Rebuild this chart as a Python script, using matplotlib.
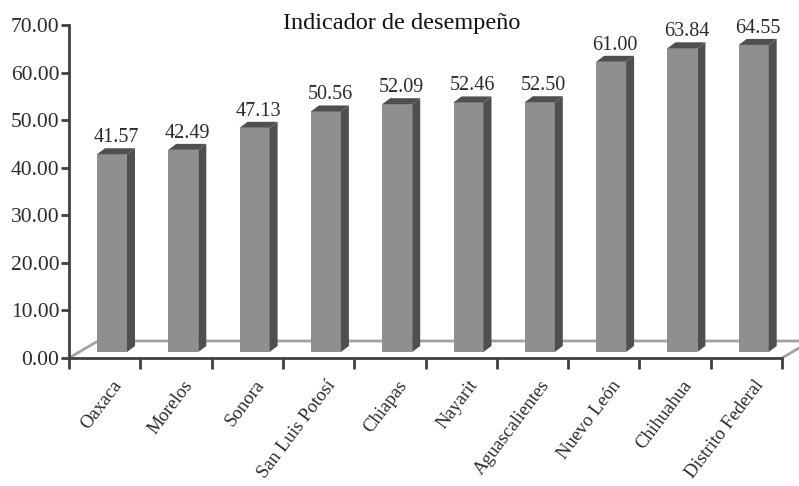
import matplotlib
matplotlib.use("Agg")
import matplotlib.pyplot as plt
from matplotlib.patches import Polygon

estados = ["Oaxaca", "Morelos", "Sonora", "San Luis Potosí", "Chiapas",
           "Nayarit", "Aguascalientes", "Nuevo León", "Chihuahua", "Distrito Federal"]
valores = [41.57, 42.49, 47.13, 50.56, 52.09, 52.46, 52.50, 61.00, 63.84, 64.55]
yticks = [0, 10, 20, 30, 40, 50, 60, 70]

plt.rcParams['font.family'] = ['Liberation Serif', 'DejaVu Serif']

fig = plt.figure(figsize=(7.99, 4.86), dpi=100)
ax = fig.add_axes([69 / 799, 1 - 358 / 486, 713 / 799, 333 / 486])
ax.set_xlim(0, len(estados))
ax.set_ylim(0, 70)

# pixel -> data conversion for the fake 3d look
px_x = len(estados) / 713
px_y = 70 / 333

front = "#8f8f91"
dark = "#4f4f51"
texto = "#2b2b2b"

# floor (back edge and diagonals)
fdx, fdy = 29 * px_x, 17 * px_y
ax.plot([0, fdx, len(estados) + fdx], [0, fdy, fdy], color="#a3a3a3", lw=2,
        clip_on=False, zorder=1, solid_capstyle="butt")
ax.plot([len(estados), len(estados) + fdx], [0, fdy], color="#a3a3a3", lw=2,
        clip_on=False, zorder=1)

# bars
bw = 30 * px_x
off = 28 * px_x
dx, dy = 8 * px_x, 6 * px_y
for i, v in enumerate(valores):
    x0 = i + off
    base = dy
    top = v + dy
    ax.add_patch(Polygon([(x0, base), (x0 + bw, base), (x0 + bw, top), (x0, top)],
                         closed=True, fc=front, ec="none", zorder=3, clip_on=False))
    ax.add_patch(Polygon([(x0, top), (x0 + bw, top), (x0 + bw + dx, top + dy), (x0 + dx, top + dy)],
                         closed=True, fc=dark, ec="none", zorder=3, clip_on=False))
    ax.add_patch(Polygon([(x0 + bw, base), (x0 + bw + dx, base + dy), (x0 + bw + dx, top + dy), (x0 + bw, top)],
                         closed=True, fc=dark, ec="none", zorder=3, clip_on=False))
    ax.text(x0 + (bw + dx) / 2, top + dy + 1 * px_y, "%.2f" % v, ha="center", va="bottom",
            fontsize=14.5, color=texto)

for s in ["top", "right"]:
    ax.spines[s].set_visible(False)
for s in ["left", "bottom"]:
    ax.spines[s].set_color("#404040")
    ax.spines[s].set_linewidth(2)

ax.set_yticks(yticks)
ax.set_yticklabels(["%.2f" % t for t in yticks], fontsize=15.5, color=texto)
ax.set_xticks(range(len(estados) + 1))
ax.set_xticklabels([])
ax.tick_params(axis="y", length=6, width=2, color="#404040", pad=1)
ax.tick_params(axis="x", length=8, width=2, color="#404040")

for i, nombre in enumerate(estados):
    ax.text(i + 0.6, -4.0, nombre, rotation=53, rotation_mode="anchor",
            ha="right", va="top", fontsize=13.5, color=texto)

fig.text(402 / 799, 1 - 24 / 486, "Indicador de desempeño", ha="center", va="center",
         fontsize=17.5, color="#111111")

fig.savefig("out.png", dpi=100)
